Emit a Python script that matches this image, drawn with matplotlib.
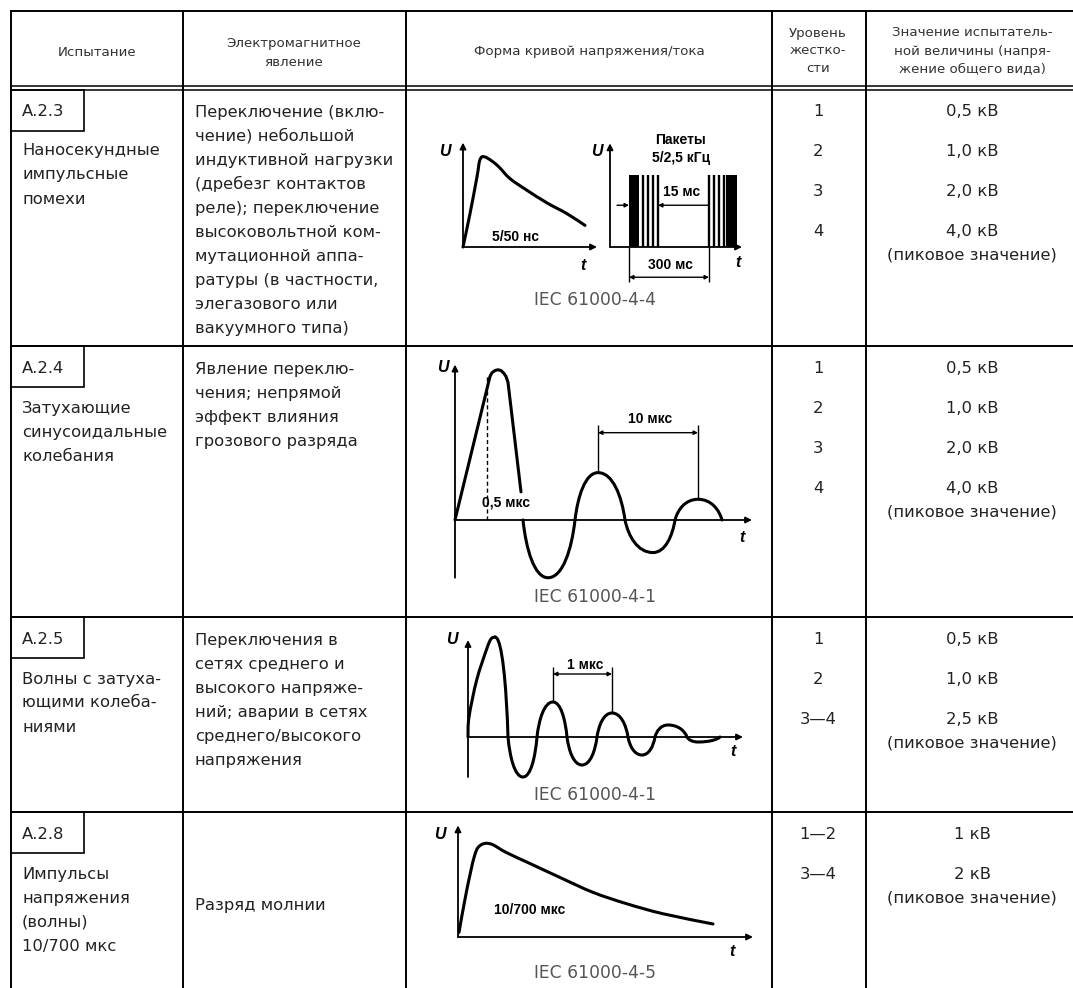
import matplotlib
matplotlib.use("Agg")
import matplotlib.pyplot as plt
from matplotlib.path import Path
from matplotlib.patches import PathPatch, Rectangle

# ---- table texts ----
headers = [
    ["Испытание"],
    ["Электромагнитное", "явление"],
    ["Форма кривой напряжения/тока"],
    ["Уровень", "жестко-", "сти"],
    ["Значение испытатель-", "ной величины (напря-", "жение общего вида)"],
]
test_ids = ["А.2.3", "А.2.4", "А.2.5", "А.2.8"]
test_names = [
    ["Наносекундные", "импульсные", "помехи"],
    ["Затухающие", "синусоидальные", "колебания"],
    ["Волны с затуха-", "ющими колеба-", "ниями"],
    ["Импульсы", "напряжения", "(волны)", "10/700 мкс"],
]
phenomena = [
    ["Переключение (вклю-", "чение) небольшой", "индуктивной нагрузки",
     "(дребезг контактов", "реле); переключение", "высоковольтной ком-",
     "мутационной аппа-", "ратуры (в частности,", "элегазового или",
     "вакуумного типа)"],
    ["Явление переклю-", "чения; непрямой", "эффект влияния", "грозового разряда"],
    ["Переключения в", "сетях среднего и", "высокого напряже-",
     "ний; аварии в сетях", "среднего/высокого", "напряжения"],
    ["Разряд молнии"],
]
levels = [["1", "2", "3", "4"], ["1", "2", "3", "4"], ["1", "2", "3—4"], ["1—2", "3—4"]]
values = [
    ["0,5 кВ", "1,0 кВ", "2,0 кВ", "4,0 кВ"],
    ["0,5 кВ", "1,0 кВ", "2,0 кВ", "4,0 кВ"],
    ["0,5 кВ", "1,0 кВ", "2,5 кВ"],
    ["1 кВ", "2 кВ"],
]
peak_note = "(пиковое значение)"
standards = ["IEC 61000-4-4", "IEC 61000-4-1", "IEC 61000-4-1", "IEC 61000-4-5"]

# ---- waveform sketches (t in sketch units, U relative to first peak) ----
pulse_ns_t = [0, 0.7, 1.4, 1.7, 2.2, 3.4, 4.7, 6.4, 8.4, 10.4, 12.2]
pulse_ns_u = [0, 0.37, 0.78, 0.97, 1.0, 0.91, 0.76, 0.63, 0.49, 0.37, 0.24]

burst_blocks = [(1.9, 1.0), (11.6, 1.1)]          # (start, width)
burst_lines = [3.3, 3.8, 4.3, 4.8, 9.9, 10.4, 10.9, 11.4]

sin_rise_t = [0, 3.5, 3.7, 4.0, 4.3, 4.6, 4.9, 5.1, 5.3, 6.6]
sin_rise_u = [0, 0.97, 0.995, 1.01, 1.015, 1.01, 0.99, 0.97, 0.93, 0.19]
sin_nodes_t = [6.8, 9.3, 12.0, 14.3, 17.0, 19.8, 22.0, 24.3, 26.7]
sin_nodes_u = [0, -0.39, 0, 0.32, 0, -0.22, 0, 0.14, 0]

osc_rise_t = [0, 0.1, 0.87, 1.87, 2.3, 2.7]
osc_rise_u = [0, 0.2, 0.57, 0.88, 0.98, 1.0]
osc_nodes_t = [2.7, 4.0, 5.5, 6.9, 8.5, 9.9, 11.4, 12.9, 14.4, 16.0, 17.4,
               18.7, 20.0, 21.9, 23.0, 25.2]
osc_nodes_u = [1.0, 0, -0.40, 0, 0.35, 0, -0.28, 0, 0.24, 0, -0.18,
               0, 0.12, 0, -0.05, 0]

pulse_us_t = [0.1, 0.83, 1.67, 2.3, 3.3, 4.8, 7.2, 10.2, 13.5, 16.8, 20.5, 25.5]
pulse_us_u = [0.05, 0.48, 0.88, 0.99, 1.0, 0.91, 0.79, 0.64, 0.48, 0.36, 0.25, 0.14]

W, H = 1073, 988
TXT = "#222222"
BODY = dict(family="DejaVu Sans", fontsize=11.8, color=TXT)
HEAD = dict(family="DejaVu Sans", fontsize=9.6, color="#333333")
LBL = dict(family="Liberation Sans", fontsize=10, fontweight="bold", color="k")
AXL = dict(family="Liberation Sans", fontsize=11.5, fontweight="bold",
           fontstyle="italic", color="k")
CURVE_LW = 2.2

fig = plt.figure(figsize=(W / 100, H / 100), dpi=100)
ax = fig.add_axes([0, 0, 1, 1])
ax.set_xlim(0, W)
ax.set_ylim(H, 0)
ax.axis("off")

# grid
col_x = [11, 183, 406, 772, 866]
col_c = [97, 294, 589, 818, 972]
row_top = [89, 346, 617, 812]
lw = 1.4
for x in col_x:
    ax.plot([x, x], [11, H + 5], color="k", lw=lw)
ax.plot([11, W + 5], [11, 11], color="k", lw=lw)
ax.plot([11, W + 5], [86.5, 86.5], color="k", lw=1.1)
ax.plot([11, W + 5], [90.5, 90.5], color="k", lw=1.1)
for y in row_top[1:]:
    ax.plot([11, W + 5], [y, y], color="k", lw=lw)

# header
head_y = {1: [51], 2: [42, 61], 3: [32, 50, 68]}
for c, lines in enumerate(headers):
    for y, s in zip(head_y[len(lines)], lines):
        ax.text(col_c[c], y + 1, s, ha="center", va="center", **HEAD)

# rows
for r, top in enumerate(row_top):
    btop = top + 1 if r == 0 else top
    ax.add_patch(Rectangle((11, btop), 73, 41, fill=False, ec="k", lw=1.2))
    ax.text(22, top + 22, test_ids[r], ha="left", va="center", **BODY)
    for i, s in enumerate(test_names[r]):
        ax.text(22, top + 62 + 24 * i, s, ha="left", va="center", **BODY)
    if len(phenomena[r]) == 1:
        ax.text(195, top + 93, phenomena[r][0], ha="left", va="center", **BODY)
    else:
        for i, s in enumerate(phenomena[r]):
            ax.text(195, top + 23 + 24 * i, s, ha="left", va="center", **BODY)
    for i, s in enumerate(levels[r]):
        ax.text(col_c[3], top + 22 + 40 * i, s, ha="center", va="center", **BODY)
    for i, s in enumerate(values[r]):
        ax.text(col_c[4], top + 22 + 40 * i, s, ha="center", va="center", **BODY)
    ax.text(col_c[4], top + 22 + 40 * (len(values[r]) - 1) + 24, peak_note,
            ha="center", va="center", **BODY)

std_y = [300, 597, 795, 973]
for s, y in zip(standards, std_y):
    ax.text(595, y, s, ha="center", va="center", family="DejaVu Sans",
            fontsize=12.3, color="#555555")


def diagram(x0, y0, sy, box, sx=10.0):
    left, top, right, bottom = box
    a = fig.add_axes([left / W, 1 - bottom / H, (right - left) / W, (bottom - top) / H])
    a.set_xlim((left - x0) / sx, (right - x0) / sx)
    a.set_ylim((y0 - bottom) / sy, (y0 - top) / sy)
    a.axis("off")
    return a


def arrow(a, p_from, p_to, style="-|>", scale=9, width=1.3):
    a.annotate("", xy=p_to, xytext=p_from, annotation_clip=False,
               arrowprops=dict(arrowstyle=style, color="k", lw=width,
                               mutation_scale=scale, shrinkA=0, shrinkB=0))


def axes_lines(a, t_end, u_top, u_bottom=0.0):
    arrow(a, (0, 0), (t_end, 0))
    arrow(a, (0, u_bottom), (0, u_top))


def draw_path(a, verts, codes):
    a.add_patch(PathPatch(Path(verts, codes), fill=False, ec="k", lw=CURVE_LW,
                          capstyle="round", joinstyle="round"))


def smooth(a, ts, us):
    # smooth curve through the read points (Catmull-Rom as cubic Bezier)
    pts = list(zip(ts, us))
    verts = [pts[0]]
    codes = [Path.MOVETO]
    for i in range(len(pts) - 1):
        p0 = pts[i - 1] if i > 0 else pts[i]
        p1, p2 = pts[i], pts[i + 1]
        p3 = pts[i + 2] if i + 2 < len(pts) else p2
        c1 = (p1[0] + (p2[0] - p0[0]) / 6, p1[1] + (p2[1] - p0[1]) / 6)
        c2 = (p2[0] - (p3[0] - p1[0]) / 6, p2[1] - (p3[1] - p1[1]) / 6)
        verts += [c1, c2, p2]
        codes += [Path.CURVE4] * 3
    draw_path(a, verts, codes)


def wave(a, ts, us):
    # rounded humps between zero crossings and extrema
    verts = [(ts[0], us[0])]
    codes = [Path.MOVETO]
    for i in range(len(ts) - 1):
        ta, ua, tb, ub = ts[i], us[i], ts[i + 1], us[i + 1]
        dt = tb - ta
        if ua == 0:
            c1 = (ta + 0.12 * dt, 0.5 * ub)
            c2 = (tb - 0.55 * dt, ub)
        else:
            c1 = (ta + 0.55 * dt, ua)
            c2 = (tb - 0.12 * dt, 0.5 * ua)
        verts += [c1, c2, (tb, ub)]
        codes += [Path.CURVE4] * 3
    draw_path(a, verts, codes)


# 1) 5/50 ns pulse
a1 = diagram(463, 247, 90, (425, 125, 610, 285))
axes_lines(a1, 13.4, 1.16)
smooth(a1, pulse_ns_t, pulse_ns_u)
a1.text(-1.8, 1.06, "U", ha="center", va="center", **AXL)
a1.text(12.0, -0.2, "t", ha="center", va="center", **AXL)
a1.text(5.2, 0.11, "5/50 нс", ha="center", va="center", **LBL)

# 2) bursts
a2 = diagram(610, 247, 72, (590, 120, 760, 292))
axes_lines(a2, 13.2, 1.44)
a2.bar([b[0] for b in burst_blocks], 1.0, width=[b[1] for b in burst_blocks],
       align="edge", color="k", lw=0)
a2.vlines(burst_lines, 0, 1.0, color="k", lw=1.7)
arrow(a2, (0.7, 0.58), (1.9, 0.58), scale=6, width=1.0)
arrow(a2, (9.9, 0.58), (4.8, 0.58), scale=6, width=1.0)
a2.vlines([1.9, 9.9], -0.49, 0, color="k", lw=1.0)
arrow(a2, (1.9, -0.42), (9.9, -0.42), style="<|-|>", scale=6, width=1.0)
a2.text(7.1, 1.49, "Пакеты", ha="center", va="center", **LBL)
a2.text(7.1, 1.24, "5/2,5 кГц", ha="center", va="center", **LBL)
a2.text(7.2, 0.76, "15 мс", ha="center", va="center", **LBL)
a2.text(6.0, -0.25, "300 мс", ha="center", va="center", **LBL)
a2.text(-1.3, 1.32, "U", ha="center", va="center", **AXL)
a2.text(12.8, -0.21, "t", ha="center", va="center", **AXL)

# 3) damped sinusoidal oscillation
a3 = diagram(455, 520, 148, (425, 350, 760, 585))
axes_lines(a3, 29.7, 1.05, -0.39)
a3.plot(sin_rise_t, sin_rise_u, color="k", lw=CURVE_LW,
        solid_joinstyle="round", solid_capstyle="round")
wave(a3, sin_nodes_t, sin_nodes_u)
a3.plot([3.2, 3.2], [0, 0.97], color="k", lw=1.0, ls=(0, (3, 2)))
a3.vlines([14.3, 24.3], [0.32, 0.14], 0.64, color="k", lw=1.0)
arrow(a3, (14.3, 0.59), (24.3, 0.59), style="<|-|>", scale=6, width=1.0)
a3.text(19.5, 0.68, "10 мкс", ha="center", va="center", **LBL)
a3.text(5.1, 0.115, "0,5 мкс", ha="center", va="center", **LBL)
a3.text(-1.2, 1.03, "U", ha="center", va="center", **AXL)
a3.text(28.7, -0.115, "t", ha="center", va="center", **AXL)

# 4) damped oscillatory wave
a4 = diagram(468, 737, 100, (430, 625, 760, 782))
axes_lines(a4, 27.5, 0.97, -0.40)
smooth(a4, osc_rise_t, osc_rise_u)
wave(a4, osc_nodes_t, osc_nodes_u)
a4.vlines([8.5, 14.4], [0.35, 0.24], 0.70, color="k", lw=1.0)
arrow(a4, (8.5, 0.63), (14.4, 0.63), style="<|-|>", scale=6, width=1.0)
a4.text(11.7, 0.72, "1 мкс", ha="center", va="center", **LBL)
a4.text(-1.6, 0.97, "U", ha="center", va="center", **AXL)
a4.text(26.5, -0.15, "t", ha="center", va="center", **AXL)

# 5) 10/700 us pulse
a5 = diagram(458, 937, 93, (425, 815, 765, 962))
axes_lines(a5, 29.5, 1.2)
smooth(a5, pulse_us_t, pulse_us_u)
a5.text(-1.8, 1.1, "U", ha="center", va="center", **AXL)
a5.text(27.4, -0.16, "t", ha="center", va="center", **AXL)
a5.text(7.2, 0.29, "10/700 мкс", ha="center", va="center", **LBL)

fig.savefig("out.png", dpi=100)
